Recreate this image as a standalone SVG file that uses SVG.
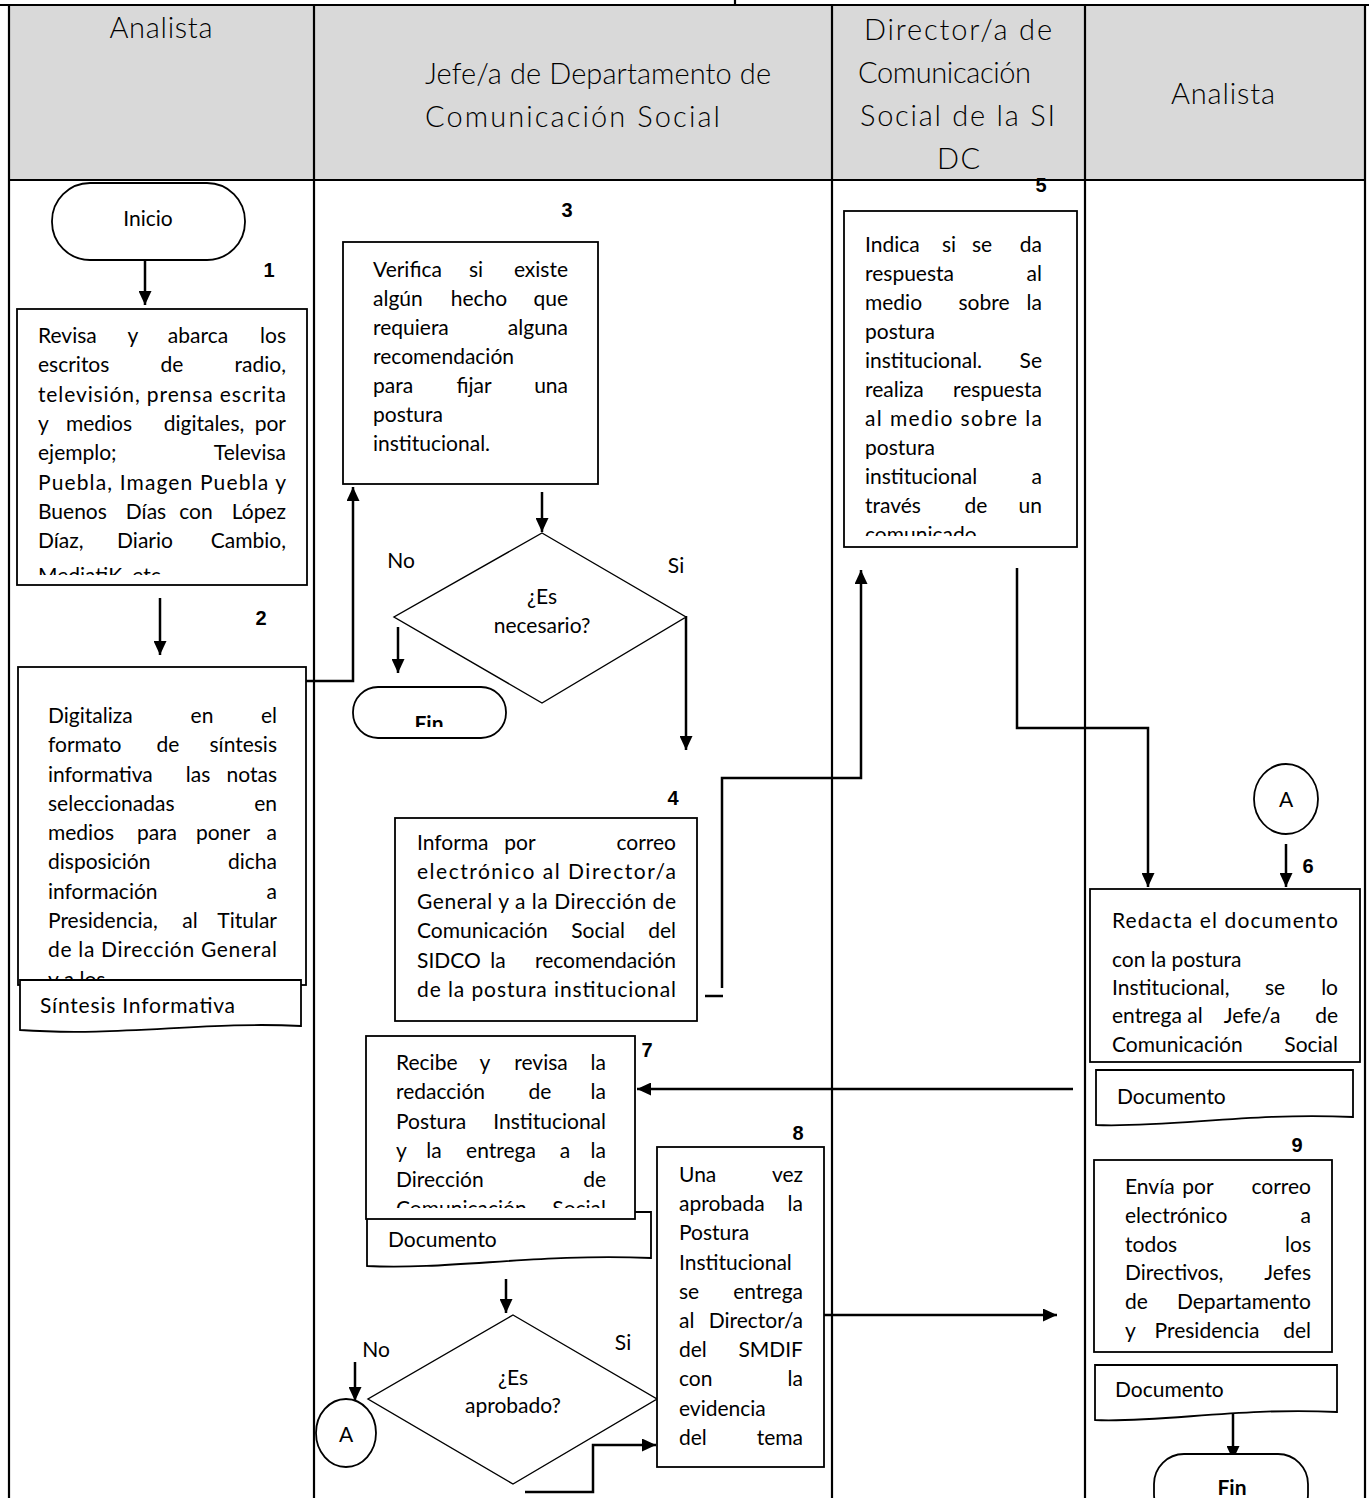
<svg xmlns="http://www.w3.org/2000/svg" width="1369" height="1498" viewBox="0 0 1369 1498">
  <style>
    .lane { stroke: #000; stroke-width: 2.2; fill: none; }
    .box { fill: #fff; stroke: #000; stroke-width: 1.8; }
    .dia { fill: #fff; stroke: #000; stroke-width: 1.4; }
    .conn { stroke: #000; stroke-width: 2.5; fill: none; }
    .t { font-family: Lato, "Liberation Sans", sans-serif; font-size: 21px; fill: #000; }
    .h { font-family: Lato, "Liberation Sans", sans-serif; font-size: 29px; font-weight: 300; fill: #000; }
    .n { font-family: "Liberation Sans", Arial, sans-serif; font-size: 20px; font-weight: bold; fill: #000; text-anchor: middle; }
    .m { text-anchor: middle; }
    .e { text-anchor: end; }
    .b { font-weight: bold; }
  </style>
  <defs>
    <marker id="ah" viewBox="0 0 14 13" refX="14" refY="6.5" markerWidth="14" markerHeight="13" markerUnits="userSpaceOnUse" orient="auto">
      <path d="M0,0 L14,6.5 L0,13 Z" fill="#000"/>
    </marker>
    <clipPath id="c1"><rect x="17" y="309" width="290" height="266"/></clipPath>
    <clipPath id="c5"><rect x="844" y="211" width="233" height="325"/></clipPath>
    <clipPath id="c6"><rect x="1090" y="889" width="270" height="166"/></clipPath>
    <clipPath id="c7"><rect x="365" y="1036" width="270" height="172"/></clipPath>
    <clipPath id="cf"><rect x="353" y="687" width="153" height="40"/></clipPath>
  </defs>

  <!-- swimlane frame -->
  <g id="lanes">
    <rect x="9" y="5" width="1356" height="175" fill="#d9d9d9"/>
    <line class="lane" x1="0" y1="5" x2="1369" y2="5"/>
    <line class="lane" x1="735" y1="0" x2="735" y2="5"/>
    <line class="lane" x1="9" y1="180" x2="1365" y2="180"/>
    <line class="lane" x1="9" y1="5" x2="9" y2="1498"/>
    <line class="lane" x1="314" y1="5" x2="314" y2="1498"/>
    <line class="lane" x1="832" y1="5" x2="832" y2="1498"/>
    <line class="lane" x1="1085" y1="5" x2="1085" y2="1498"/>
    <line class="lane" x1="1365" y1="5" x2="1365" y2="1498"/>
    <text class="h m" x="161" y="38" textLength="103">Analista</text>
    <text class="h" x="425" y="84" textLength="346">Jefe/a de Departamento de</text>
    <text class="h" x="425" y="127" textLength="295">Comunicación Social</text>
    <text class="h" x="864" y="40" textLength="188">Director/a de</text>
    <text class="h" x="858" y="83" textLength="173">Comunicación</text>
    <text class="h" x="860" y="126" textLength="195">Social de la SI</text>
    <text class="h" x="937" y="169" textLength="43">DC</text>
    <text class="h m" x="1223" y="104" textLength="104">Analista</text>
  </g>

  <!-- connectors -->
  <g id="connectors">
    <path class="conn" d="M145 260 V305" marker-end="url(#ah)"/>
    <path class="conn" d="M160 598 V655" marker-end="url(#ah)"/>
    <path class="conn" d="M306 681 H353 V487" marker-end="url(#ah)"/>
    <path class="conn" d="M542 492 V532" marker-end="url(#ah)"/>
    <path class="conn" d="M398 627 V673" marker-end="url(#ah)"/>
    <path class="conn" d="M686 616 V750" marker-end="url(#ah)"/>
    <path class="conn" d="M722 988 V778 H861 V570" marker-end="url(#ah)"/>
    <path class="conn" d="M705 996 H723"/>
    <path class="conn" d="M1017 568 V728 H1148 V887" marker-end="url(#ah)"/>
    <path class="conn" d="M1286 844 V887" marker-end="url(#ah)"/>
    <path class="conn" d="M1073 1089 H637" marker-end="url(#ah)"/>
    <path class="conn" d="M506 1279 V1313" marker-end="url(#ah)"/>
    <path class="conn" d="M355 1362 V1401" marker-end="url(#ah)"/>
    <path class="conn" d="M525 1492 H593 V1445 H656" marker-end="url(#ah)"/>
    <path class="conn" d="M824 1315 H1057" marker-end="url(#ah)"/>
    <path class="conn" d="M1233 1413 V1460" marker-end="url(#ah)"/>
  </g>

  <!-- start -->
  <g id="inicio">
    <rect class="box" x="52" y="183" width="193" height="77" rx="38"/>
    <text class="t m" x="148" y="226">Inicio</text>
  </g>

  <!-- step 1 -->
  <g id="step1">
    <rect class="box" x="17" y="309" width="290" height="276"/>
    <text class="n" x="269" y="277">1</text>
    <g class="t" clip-path="url(#c1)">
      <text x="38" y="343">Revisa</text><text class="m" x="133" y="343">y</text><text class="m" x="198" y="343">abarca</text><text class="e" x="286" y="343">los</text>
      <text x="38" y="372">escritos</text><text class="m" x="172" y="372">de</text><text class="e" x="286" y="372">radio,</text>
      <text x="38" y="402" textLength="248">televisión, prensa escrita</text>
      <text x="38" y="431">y</text><text class="m" x="99" y="431">medios</text><text class="m" x="204" y="431">digitales,</text><text class="e" x="286" y="431">por</text>
      <text x="38" y="460">ejemplo;</text><text class="e" x="286" y="460">Televisa</text>
      <text x="38" y="490" textLength="248">Puebla, Imagen Puebla y</text>
      <text x="38" y="519">Buenos</text><text class="m" x="146" y="519">Días</text><text class="m" x="196" y="519">con</text><text class="e" x="286" y="519">López</text>
      <text x="38" y="548">Díaz,</text><text class="m" x="145" y="548">Diario</text><text class="e" x="286" y="548">Cambio,</text>
      <text x="38" y="583">MediatiK, etc.</text>
    </g>
  </g>

  <!-- step 2 -->
  <g id="step2">
    <rect class="box" x="18" y="667" width="288" height="318"/>
    <text class="n" x="261" y="625">2</text>
    <g class="t">
      <text x="48" y="723">Digitaliza</text><text class="m" x="202" y="723">en</text><text class="e" x="277" y="723">el</text>
      <text x="48" y="752">formato</text><text class="m" x="168" y="752">de</text><text class="e" x="277" y="752">síntesis</text>
      <text x="48" y="782">informativa</text><text class="m" x="198" y="782">las</text><text class="e" x="277" y="782">notas</text>
      <text x="48" y="811">seleccionadas</text><text class="e" x="277" y="811">en</text>
      <text x="48" y="840">medios</text><text class="m" x="157" y="840">para</text><text class="m" x="223" y="840">poner</text><text class="e" x="277" y="840">a</text>
      <text x="48" y="869">disposición</text><text class="e" x="277" y="869">dicha</text>
      <text x="48" y="899">información</text><text class="e" x="277" y="899">a</text>
      <text x="48" y="928">Presidencia,</text><text class="m" x="190" y="928">al</text><text class="e" x="277" y="928">Titular</text>
      <text x="48" y="957" textLength="229">de la Dirección General</text>
      <text x="48" y="987">y a los</text>
    </g>
    <path class="box" d="M20 980 H301 V1026 C 205 1021, 120 1037, 20 1030 Z"/>
    <text class="t" x="40" y="1013" textLength="195">Síntesis Informativa</text>
  </g>

  <!-- step 3 -->
  <g id="step3">
    <rect class="box" x="343" y="242" width="255" height="242"/>
    <text class="n" x="567" y="217">3</text>
    <g class="t">
      <text x="373" y="277">Verifica</text><text class="m" x="476" y="277">si</text><text class="e" x="568" y="277">existe</text>
      <text x="373" y="306">algún</text><text class="m" x="479" y="306">hecho</text><text class="e" x="568" y="306">que</text>
      <text x="373" y="335">requiera</text><text class="e" x="568" y="335">alguna</text>
      <text x="373" y="364">recomendación</text>
      <text x="373" y="393">para</text><text class="m" x="474" y="393">fijar</text><text class="e" x="568" y="393">una</text>
      <text x="373" y="422">postura</text>
      <text x="373" y="451">institucional.</text>
    </g>
  </g>

  <!-- decision: is it necessary -->
  <g id="decision1">
    <polygon class="dia" points="542,533 686,617 542,703 394,617"/>
    <text class="t m" x="542" y="604">¿Es</text>
    <text class="t m" x="542" y="633">necesario?</text>
    <text class="t m" x="401" y="568">No</text>
    <text class="t m" x="676" y="573">Si</text>
  </g>

  <!-- end when no -->
  <g id="fin1">
    <rect class="box" x="353" y="687" width="153" height="51" rx="25"/>
    <text class="t m b" x="429" y="731" clip-path="url(#cf)">Fin</text>
  </g>

  <!-- step 4 -->
  <g id="step4">
    <rect class="box" x="395" y="818" width="302" height="203"/>
    <text class="n" x="673" y="805">4</text>
    <g class="t">
      <text x="417" y="850">Informa</text><text class="m" x="520" y="850">por</text><text class="e" x="676" y="850">correo</text>
      <text x="417" y="879" textLength="259">electrónico al Director/a</text>
      <text x="417" y="909" textLength="259">General y a la Dirección de</text>
      <text x="417" y="938">Comunicación</text><text class="m" x="598" y="938">Social</text><text class="e" x="676" y="938">del</text>
      <text x="417" y="968">SIDCO</text><text class="m" x="498" y="968">la</text><text class="e" x="676" y="968">recomendación</text>
      <text x="417" y="997" textLength="259">de la postura institucional</text>
    </g>
  </g>

  <!-- step 5 -->
  <g id="step5">
    <rect class="box" x="844" y="211" width="233" height="336"/>
    <text class="n" x="1041" y="192">5</text>
    <g class="t" clip-path="url(#c5)">
      <text x="865" y="252">Indica</text><text class="m" x="949" y="252">si</text><text class="m" x="982" y="252">se</text><text class="e" x="1042" y="252">da</text>
      <text x="865" y="281">respuesta</text><text class="e" x="1042" y="281">al</text>
      <text x="865" y="310">medio</text><text class="m" x="984" y="310">sobre</text><text class="e" x="1042" y="310">la</text>
      <text x="865" y="339">postura</text>
      <text x="865" y="368">institucional.</text><text class="e" x="1042" y="368">Se</text>
      <text x="865" y="397">realiza</text><text class="e" x="1042" y="397">respuesta</text>
      <text x="865" y="426" textLength="177">al medio sobre la</text>
      <text x="865" y="455">postura</text>
      <text x="865" y="484">institucional</text><text class="e" x="1042" y="484">a</text>
      <text x="865" y="513">través</text><text class="m" x="976" y="513">de</text><text class="e" x="1042" y="513">un</text>
      <text x="865" y="542">comunicado</text>
    </g>
  </g>

  <!-- connector A (right) -->
  <g id="connectorA1">
    <ellipse class="box" cx="1286" cy="799" rx="32" ry="35"/>
    <text class="t m" x="1286" y="807">A</text>
  </g>

  <!-- step 6 -->
  <g id="step6">
    <rect class="box" x="1090" y="889" width="270" height="173"/>
    <text class="n" x="1308" y="873">6</text>
    <g class="t" clip-path="url(#c6)">
      <text x="1112" y="928" textLength="226">Redacta el documento</text>
      <text x="1112" y="967">con la postura</text>
      <text x="1112" y="995">Institucional,</text><text class="m" x="1275" y="995">se</text><text class="e" x="1338" y="995">lo</text>
      <text x="1112" y="1023">entrega</text><text class="m" x="1195" y="1023">al</text><text class="m" x="1252" y="1023">Jefe/a</text><text class="e" x="1338" y="1023">de</text>
      <text x="1112" y="1052">Comunicación</text><text class="e" x="1338" y="1052">Social</text>
    </g>
    <path class="box" d="M1096 1070 H1353 V1117 C 1250 1112, 1170 1128, 1096 1125 Z"/>
    <text class="t" x="1117" y="1104">Documento</text>
  </g>

  <!-- step 7 -->
  <g id="step7">
    <path class="box" d="M367 1212 H651 V1258 C 540 1253, 450 1270, 367 1266 Z"/>
    <rect class="box" x="366" y="1036" width="269" height="183"/>
    <text class="n" x="647" y="1057">7</text>
    <g class="t" clip-path="url(#c7)">
      <text x="396" y="1070">Recibe</text><text class="m" x="485" y="1070">y</text><text class="m" x="541" y="1070">revisa</text><text class="e" x="606" y="1070">la</text>
      <text x="396" y="1099">redacción</text><text class="m" x="540" y="1099">de</text><text class="e" x="606" y="1099">la</text>
      <text x="396" y="1129">Postura</text><text class="e" x="606" y="1129">Institucional</text>
      <text x="396" y="1158">y</text><text class="m" x="434" y="1158">la</text><text class="m" x="501" y="1158">entrega</text><text class="m" x="565" y="1158">a</text><text class="e" x="606" y="1158">la</text>
      <text x="396" y="1187">Dirección</text><text class="e" x="606" y="1187">de</text>
      <text x="396" y="1216">Comunicación</text><text class="e" x="606" y="1216">Social</text>
    </g>
    <text class="t" x="388" y="1247">Documento</text>
  </g>

  <!-- decision: is it approved -->
  <g id="decision2">
    <polygon class="dia" points="513,1315 657,1399 513,1484 368,1399"/>
    <text class="t m" x="513" y="1385">¿Es</text>
    <text class="t m" x="513" y="1413">aprobado?</text>
    <text class="t m" x="376" y="1357">No</text>
    <text class="t m" x="623" y="1350">Si</text>
  </g>

  <!-- connector A (left) -->
  <g id="connectorA2">
    <ellipse class="box" cx="346" cy="1433" rx="30" ry="34"/>
    <text class="t m" x="346" y="1442">A</text>
  </g>

  <!-- step 8 -->
  <g id="step8">
    <rect class="box" x="657" y="1147" width="167" height="320"/>
    <text class="n" x="798" y="1140">8</text>
    <g class="t">
      <text x="679" y="1182">Una</text><text class="e" x="803" y="1182">vez</text>
      <text x="679" y="1211">aprobada</text><text class="e" x="803" y="1211">la</text>
      <text x="679" y="1240">Postura</text>
      <text x="679" y="1270">Institucional</text>
      <text x="679" y="1299">se</text><text class="e" x="803" y="1299">entrega</text>
      <text x="679" y="1328">al</text><text class="e" x="803" y="1328">Director/a</text>
      <text x="679" y="1357">del</text><text class="e" x="803" y="1357">SMDIF</text>
      <text x="679" y="1386">con</text><text class="e" x="803" y="1386">la</text>
      <text x="679" y="1416">evidencia</text>
      <text x="679" y="1445">del</text><text class="e" x="803" y="1445">tema</text>
    </g>
  </g>

  <!-- step 9 -->
  <g id="step9">
    <rect class="box" x="1094" y="1160" width="238" height="192"/>
    <text class="n" x="1297" y="1152">9</text>
    <g class="t">
      <text x="1125" y="1194">Envía</text><text class="m" x="1198" y="1194">por</text><text class="e" x="1311" y="1194">correo</text>
      <text x="1125" y="1223">electrónico</text><text class="e" x="1311" y="1223">a</text>
      <text x="1125" y="1252">todos</text><text class="e" x="1311" y="1252">los</text>
      <text x="1125" y="1280">Directivos,</text><text class="e" x="1311" y="1280">Jefes</text>
      <text x="1125" y="1309">de</text><text class="e" x="1311" y="1309">Departamento</text>
      <text x="1125" y="1338">y</text><text class="m" x="1207" y="1338">Presidencia</text><text class="e" x="1311" y="1338">del</text>
    </g>
    <path class="box" d="M1095 1365 H1337 V1412 C 1240 1407, 1160 1423, 1095 1420 Z"/>
    <text class="t" x="1115" y="1397">Documento</text>
  </g>

  <!-- end -->
  <g id="fin2">
    <rect class="box" x="1154" y="1454" width="154" height="70" rx="30"/>
    <text class="t m b" x="1232" y="1495">Fin</text>
  </g>
</svg>
